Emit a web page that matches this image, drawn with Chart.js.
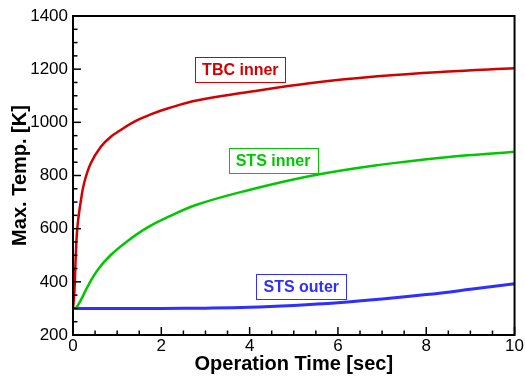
<!DOCTYPE html>
<html>
<head>
<meta charset="utf-8">
<script src="https://cdn.jsdelivr.net/npm/chart.js@4.4.1/dist/chart.umd.min.js"></script>
<style>
  html, body { margin: 0; padding: 0; background: #fff; }
  #wrap { width: 525px; height: 376px; }
</style>
</head>
<body>
<div id="wrap"><canvas id="tempChart" width="525" height="376"></canvas></div>
<script>
// values
const tTbc = [0, 0.03, 0.065, 0.1, 0.18, 0.25, 0.4, 0.63, 0.85, 1.08, 1.38, 1.76, 2.14, 2.8, 3.9, 5.4, 6.9, 8.4, 10];
const tempTbc = [300, 357, 507, 607, 707, 770, 845, 908, 945, 971, 1002, 1030, 1052, 1082, 1112, 1148, 1173, 1190, 1203];

const tStsIn = [0, 0.06, 0.18, 0.33, 0.55, 0.85, 1.23, 1.68, 2.14, 2.8, 3.9, 5.4, 6.9, 8.4, 10];
const tempStsIn = [300, 300, 332, 382, 443, 500, 553, 604, 643, 690, 742, 799, 839, 868, 889];

const tStsOut = [0, 1, 2, 3, 4, 5, 6, 7, 8, 9, 10];
const tempStsOut = [300, 300, 300, 301, 304, 311, 321, 335, 352, 372, 393];

const seriesNames = ['TBC inner', 'STS inner', 'STS outer'];
const labelPos = [[3.79, 1200], [4.53, 856], [5.17, 382]];
const colors = ['#d40000', '#00c800', '#2f2fff'];

function pts(xs, ys) {
    let out = [];
    for (let i = 0; i < xs.length; i++) {
        out[i] = { x: xs[i], y: ys[i] };
    }
    return out;
}

const frame = {
    id: 'frame',
    afterDraw(chart) {
        const ctx = chart.ctx;
        const a = chart.chartArea;
        const xs = chart.scales.x;
        const ys = chart.scales.y;
        ctx.save();
        ctx.strokeStyle = '#000';
        // inward ticks
        ctx.lineWidth = 1.5;
        for (let v = 0; v <= 10.001; v += 0.5) {
            const px = xs.getPixelForValue(v);
            const len = (Math.abs(v / 2 - Math.round(v / 2)) < 0.01) ? 8 : 4.5;
            ctx.beginPath();
            ctx.moveTo(px, a.bottom);
            ctx.lineTo(px, a.bottom - len);
            ctx.stroke();
        }
        for (let v = 200; v <= 1400; v += 50) {
            const py = ys.getPixelForValue(v);
            const len = (v % 200 === 0) ? 8 : 4.5;
            ctx.beginPath();
            ctx.moveTo(a.left, py);
            ctx.lineTo(a.left + len, py);
            ctx.stroke();
        }
        ctx.lineWidth = 2;
        ctx.strokeRect(a.left, a.top, a.right - a.left, a.bottom - a.top);

        // series labels
        ctx.font = 'bold 16px "Liberation Sans", Arial, sans-serif';
        ctx.textAlign = 'center';
        ctx.textBaseline = 'middle';
        for (let i = 0; i < seriesNames.length; i++) {
            const cx = xs.getPixelForValue(labelPos[i][0]);
            const cy = ys.getPixelForValue(labelPos[i][1]);
            const w = ctx.measureText(seriesNames[i]).width + 14;
            const h = 25;
            ctx.fillStyle = '#fff';
            ctx.fillRect(cx - w / 2, cy - h / 2, w, h);
            ctx.lineWidth = 1;
            ctx.strokeStyle = colors[i];
            ctx.strokeRect(Math.round(cx - w / 2) + 0.5, Math.round(cy - h / 2) + 0.5, Math.round(w), h);
            ctx.fillStyle = colors[i];
            ctx.fillText(seriesNames[i], cx, cy + 1);
        }
        ctx.restore();
    }
};

const font = '"Liberation Sans", Arial, sans-serif';

new Chart(document.getElementById('tempChart'), {
    type: 'line',
    data: {
        datasets: [
            { data: pts(tTbc, tempTbc), borderColor: colors[0], borderWidth: 2.5 },
            { data: pts(tStsIn, tempStsIn), borderColor: colors[1], borderWidth: 2.5 },
            { data: pts(tStsOut, tempStsOut), borderColor: colors[2], borderWidth: 3 }
        ]
    },
    options: {
        responsive: false,
        animation: false,
        events: [],
        layout: { padding: { top: 16, right: 9, left: 0, bottom: 0 } },
        elements: {
            point: { radius: 0 },
            line: { tension: 0.4, fill: false }
        },
        plugins: { legend: { display: false }, tooltip: { enabled: false } },
        scales: {
            x: {
                type: 'linear',
                min: 0,
                max: 10,
                afterFit: (s) => { s.height = 41; },
                grid: { display: false, drawTicks: false },
                border: { display: false },
                ticks: {
                    stepSize: 2, color: '#000', padding: 1,
                    callback: (v) => String(v),
                    font: { family: font, size: 17 }
                },
                title: {
                    display: true,
                    text: 'Operation Time [sec]',
                    color: '#000',
                    padding: { top: 0, bottom: 0 },
                    font: { family: font, size: 20, weight: 'bold' }
                }
            },
            y: {
                min: 200,
                max: 1400,
                afterFit: (s) => { s.width = 73; },
                grid: { display: false, drawTicks: false },
                border: { display: false },
                ticks: {
                    stepSize: 200, color: '#000', padding: 5,
                    callback: (v) => String(v),
                    font: { family: font, size: 17 }
                },
                title: {
                    display: true,
                    text: 'Max. Temp. [K]',
                    color: '#000',
                    padding: { top: 8, bottom: 0 },
                    font: { family: font, size: 20, weight: 'bold' }
                }
            }
        }
    },
    plugins: [frame]
});
</script>
</body>
</html>
